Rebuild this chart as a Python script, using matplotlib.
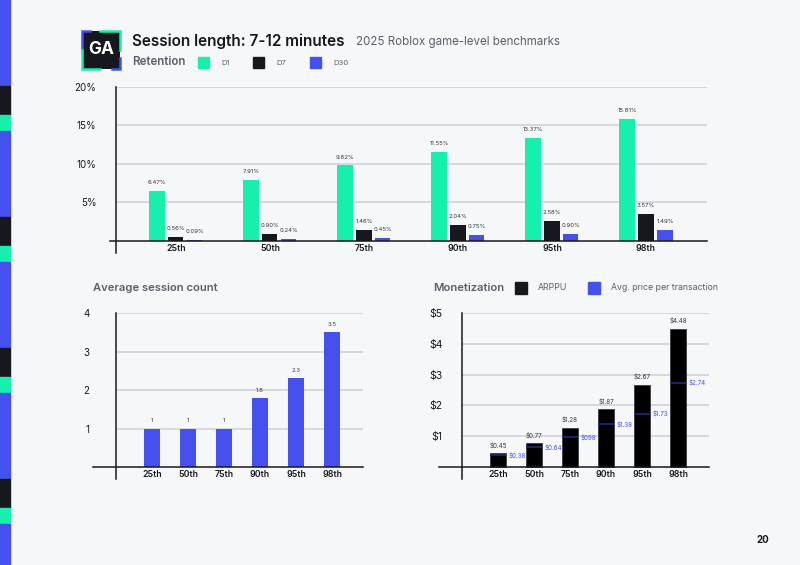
import matplotlib
matplotlib.use('Agg')
import matplotlib.pyplot as plt
from matplotlib.patches import Rectangle, FancyBboxPatch
from matplotlib.lines import Line2D
import numpy as np

plt.rcParams['font.family'] = ['Inter', 'DejaVu Sans']

# ---- data ----
percentiles = ['25th', '50th', '75th', '90th', '95th', '98th']
d1 = [6.47, 7.91, 9.82, 11.55, 13.37, 15.81]
d7 = [0.56, 0.90, 1.46, 2.04, 2.58, 3.57]
d30 = [0.09, 0.24, 0.45, 0.75, 0.90, 1.49]
session_count = [1, 1, 1, 1.8, 2.3, 3.5]
session_labels = ['1', '1', '1', '1.8', '2.3', '3.5']
arppu = [0.45, 0.77, 1.28, 1.87, 2.67, 4.48]
arppu_labels = ['$0.45', '$0.77', '$1.28', '$1.87', '$2.67', '$4.48']
avg_price = [0.38, 0.64, 0.98, 1.38, 1.73, 2.74]
avg_price_labels = ['$0.38', '$0.64', '$098', '$1.38', '$1.73', '$2.74']

GREEN = '#17efad'
BLACK = '#16181d'
BLUE = '#4550ee'
NAVY = '#1c2a80'
BG = '#f6f7f9'
GRID = '#d3d5db'
GRAY = '#5b5f6a'
W, H = 800, 565

fig = plt.figure(figsize=(8, 5.65), dpi=100, facecolor=BG)


def fx(px):
    return px / W


def fy(py):
    return 1 - py / H


# left decorative stripe
stripe = [(0, 86, BLUE), (86, 115, BLACK), (115, 130, GREEN)]
for k in range(5):
    for a, b, c in stripe:
        top = a + 131 * k
        bot = min(b + 131 * k, H)
        if top >= H:
            continue
        fig.patches.append(Rectangle((0, fy(bot)), fx(10), fy(top) - fy(bot),
                                     transform=fig.transFigure, color=c, zorder=0))

# logo
fig.patches.append(FancyBboxPatch((fx(82), fy(69)), fx(38), fy(31) - fy(69),
                                  boxstyle='round,pad=0,rounding_size=0.003',
                                  transform=fig.transFigure, facecolor=BLACK,
                                  edgecolor='none'))
corners = [
    ([90, 82, 82], [31, 31, 50], BLUE),
    ([100, 120, 120], [31, 31, 50], GREEN),
    ([82, 82, 100], [50, 69, 69], GREEN),
    ([112, 120, 120], [69, 69, 58], BLUE),
]
for xs, ys, c in corners:
    fig.lines.append(Line2D([fx(v) for v in xs], [fy(v) for v in ys],
                            transform=fig.transFigure, color=c, linewidth=1.8,
                            solid_joinstyle='miter'))
fig.text(fx(101), fy(50), 'GA', color='white', fontsize=12.5, fontweight='bold',
         ha='center', va='center')

# header
fig.text(fx(132), fy(41), 'Session length: 7-12 minutes', fontsize=11,
         fontweight='semibold', color=BLACK, va='center')
fig.text(fx(356), fy(42), '2025 Roblox game-level benchmarks', fontsize=8.3,
         color=GRAY, va='center')
fig.text(fx(132), fy(62), 'Retention', fontsize=8.3, fontweight='semibold',
         color=GRAY, va='center')
for x0, c, lab in [(198, GREEN, 'D1'), (253, BLACK, 'D7'), (310, BLUE, 'D30')]:
    fig.patches.append(Rectangle((fx(x0), fy(68)), fx(11), fy(57) - fy(68),
                                 transform=fig.transFigure, color=c))
    fig.text(fx(x0 + 23), fy(62.5), lab, fontsize=5.5, color=GRAY, va='center')

fig.text(fx(763), fy(540), '20', fontsize=7, fontweight='bold', color=BLACK,
         ha='center', va='center')


def setup(ax, ylim, yticks, yticklabels, base_left, xlim):
    ax.set_facecolor('none')
    ax.set_xlim(*xlim)
    ax.set_ylim(*ylim)
    for s in ['top', 'right', 'bottom']:
        ax.spines[s].set_visible(False)
    ax.spines['left'].set_color(BLACK)
    ax.spines['left'].set_linewidth(1.1)
    ax.set_yticks(yticks)
    ax.set_yticklabels(yticklabels)
    ax.tick_params(axis='y', length=0, pad=14, labelsize=7, labelcolor=BLACK)
    ax.tick_params(axis='x', length=0, pad=-6.5, labelsize=6.3, labelcolor=BLACK)
    for t in yticks:
        ax.axhline(t, color=GRID, linewidth=1.3, zorder=0)
    ax.plot([base_left, 1], [0, 0], transform=ax.get_yaxis_transform(),
            color=BLACK, linewidth=1.1, clip_on=False, zorder=3)


x = np.arange(len(percentiles))

# ---- retention chart ----
ax1 = fig.add_axes([fx(116), fy(253), fx(707) - fx(116), fy(87) - fy(253)])
setup(ax1, (-1.56, 20), [5, 10, 15, 20], ['5%', '10%', '15%', '20%'], -0.01,
      (-0.638, 5.649))
bw = 0.16
off = 0.202
for vals, c, dx in [(d1, GREEN, -off), (d7, BLACK, 0), (d30, BLUE, off)]:
    ax1.bar(x + dx, vals, width=bw, color=c, zorder=2)
    for xi, v in zip(x, vals):
        ax1.annotate(f'{v:.2f}%', (xi + dx, v), xytext=(0, 6), textcoords='offset points',
                     ha='center', va='center', fontsize=4.3, color='#333640')
ax1.set_xticks(x)
ax1.set_xticklabels(percentiles, fontweight='semibold')

# ---- session count chart ----
fig.text(fx(93), fy(288), 'Average session count', fontsize=8.1,
         fontweight='semibold', color=GRAY, va='center')
ax2 = fig.add_axes([fx(116), fy(479), fx(363) - fx(116), fy(313) - fy(479)])
setup(ax2, (-0.31, 4), [1, 2, 3, 4], ['1', '2', '3', '4'], -0.093, (-1.0, 5.86))
ax2.tick_params(axis='y', pad=19)
ax2.bar(x, session_count, width=0.42, color=BLUE, zorder=2)
for xi, v, lab in zip(x, session_count, session_labels):
    ax2.annotate(lab, (xi, v), xytext=(0, 5.5), textcoords='offset points',
                 ha='center', va='center', fontsize=4.3, color='#333640')
ax2.set_xticks(x)
ax2.set_xticklabels(percentiles, fontweight='semibold')

# ---- monetization chart ----
fig.text(fx(433), fy(288), 'Monetization', fontsize=8.1, fontweight='semibold',
         color=GRAY, va='center')
for x0, c, lab in [(515, BLACK, 'ARPPU'), (588, BLUE, 'Avg. price per transaction')]:
    fig.patches.append(Rectangle((fx(x0), fy(294)), fx(12), fy(282) - fy(294),
                                 transform=fig.transFigure, color=c))
    fig.text(fx(x0 + 23), fy(288), lab, fontsize=6.3, color=GRAY, va='center')

ax3 = fig.add_axes([fx(462), fy(479), fx(709) - fx(462), fy(313) - fy(479)])
setup(ax3, (-0.39, 5), [1, 2, 3, 4, 5], ['$1', '$2', '$3', '$4', '$5'], -0.093,
      (-1.0, 5.86))
ax3.tick_params(axis='y', labelsize=7.5)
mbw = 0.42
ax3.bar(x, arppu, width=mbw, color='black', edgecolor='#3a3c42', linewidth=0.6, zorder=2)
for xi, v, lab in zip(x, arppu, arppu_labels):
    ax3.annotate(lab, (xi, v), xytext=(0, 6), textcoords='offset points',
                 ha='center', va='center', fontsize=4.5, color='#333640')
ax3.hlines(avg_price, x - mbw / 2, x + mbw / 2, color=NAVY, linewidth=1.2, zorder=3)
for xi, v, lab in zip(x, avg_price, avg_price_labels):
    ax3.annotate(lab, (xi + mbw / 2, v), xytext=(2, 0), textcoords='offset points',
                 ha='left', va='center', fontsize=4.5, color=BLUE)
ax3.set_xticks(x)
ax3.set_xticklabels(percentiles, fontweight='semibold')

fig.savefig('out.png', dpi=100, facecolor=BG)
